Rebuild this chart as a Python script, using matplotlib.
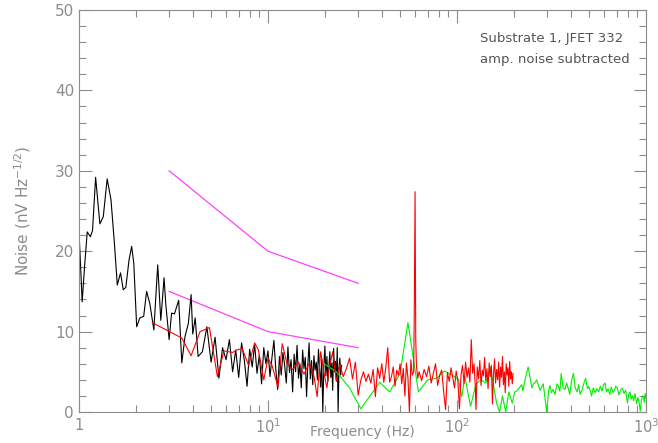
import matplotlib
matplotlib.use("Agg")
import matplotlib.pyplot as plt
from matplotlib.ticker import FixedLocator, FuncFormatter, MultipleLocator

# black spectrum, low frequency part
black_lo_f = [1.0, 1.04, 1.07, 1.106, 1.15, 1.18, 1.225, 1.29, 1.345, 1.41, 1.477,
              1.54, 1.595, 1.66, 1.715, 1.77, 1.84, 1.9, 1.95, 2.02, 2.1, 2.2, 2.28,
              2.37, 2.49, 2.61, 2.71, 2.82, 2.88, 3.0, 3.09, 3.2, 3.37, 3.5, 3.64,
              3.79, 3.92, 4.0, 4.12, 4.27]
black_lo_v = [22.6, 13.7, 18.0, 22.4, 21.8, 22.6, 29.2, 23.4, 24.3, 29.0, 26.4,
              21.0, 15.8, 17.3, 15.2, 15.5, 18.9, 20.6, 18.5, 10.6, 11.7, 11.9, 15.0,
              13.5, 10.2, 18.3, 11.4, 16.7, 13.4, 9.0, 12.3, 12.2, 13.9, 6.1, 9.4,
              11.0, 14.6, 9.7, 11.7, 6.9]

# black spectrum, dense part
black_hi_f = [4.5, 4.75, 5.0, 5.25, 5.5, 5.75, 6.0, 6.25, 6.5, 6.75, 7.0, 7.25, 7.5,
              7.75, 8.0, 8.25, 8.5, 8.75, 9.0, 9.25, 9.5, 9.75, 10.0, 10.25, 10.5,
              10.75, 11.0, 11.25, 11.5, 11.75, 12.0, 12.25, 12.5, 12.75, 13.0, 13.25,
              13.5, 13.75, 14.0, 14.25, 14.5, 14.75, 15.0, 15.25, 15.5, 15.75, 16.0,
              16.25, 16.5, 16.75, 17.0, 17.25, 17.5, 17.75, 18.0, 18.25, 18.5, 18.75,
              19.0, 19.25, 19.5, 19.75, 20.0, 20.25, 20.5, 20.75, 21.0, 21.25, 21.5,
              21.75, 22.0, 22.25, 22.5, 22.75, 23.0, 23.25, 23.5, 23.75, 24.0, 24.25,
              24.5]
black_hi_v = [7.5, 10.6, 6.2, 9.3, 4.2, 8.0, 6.5, 9.0, 5.0, 7.7, 4.3, 8.6, 6.4,
              3.2, 7.8, 5.6, 8.4, 4.8, 7.1, 3.5, 8.0, 6.0, 7.6, 4.4, 6.8,
              8.9, 5.3, 2.8, 6.9, 4.6, 7.4, 5.8, 3.6, 8.1, 4.9, 6.5,
              2.5, 7.2, 5.0, 8.3, 4.2, 6.0, 3.0, 7.7, 5.4, 6.8, 1.9,
              5.9, 8.6, 4.1, 6.4, 3.4, 7.0, 5.2, 6.2, 4.0, 7.8, 5.5,
              3.1, 6.6, 0.0, 5.8, 8.2, 4.5, 6.9, 3.8, 5.6, 7.5, 4.3,
              6.1, 2.7, 7.9, 5.0, 6.3, 3.9, 8.0, 0.0, 5.5, 6.7, 4.6,
              5.8]

# red spectrum
red_f = [2.45, 3.5, 3.92, 4.37, 4.9, 5.4, 5.85, 6.5, 6.8, 7.3, 7.9, 8.5, 8.9, 9.5,
         10.0, 10.5, 11.3, 11.9, 12.6, 13.5, 14.5, 15.5, 16.5, 17.5, 18.2, 19.0,
         19.8, 20.5,
         21, 22, 23, 24, 25, 26, 27, 28, 29, 30, 31, 32, 33, 34, 35, 36, 37, 38, 39, 40,
         41, 42, 43, 44, 45, 46, 47, 48, 49, 50, 51, 52, 53, 54, 55, 56, 57, 58, 59,
         59.5, 60, 60.5, 61, 62,
         63, 65, 67, 69, 71, 73, 75, 77, 79, 81, 83, 85, 87, 89, 91, 93, 95, 97, 99,
         101, 103, 105, 107, 109, 111, 113, 115, 117, 119, 121, 123, 125, 126, 128,
         130, 132, 134, 136, 138, 140, 142, 144, 146, 148, 150, 152, 154, 156, 158,
         160, 162, 164, 166, 168, 170, 172, 174, 176, 178, 180, 182, 184, 186, 188,
         190, 192, 194, 196, 198]
red_v = [11.1, 9.2, 7.0, 10.0, 10.5, 4.4, 7.6, 7.4, 7.7, 7.9, 5.8, 8.6, 7.7, 4.0,
         6.7, 5.8, 3.1, 8.5, 6.0, 5.3, 6.2, 4.7, 6.0, 4.5, 1.9, 7.5,
         4.8, 3.0,
         5.2, 7.5, 3.8, 5.9, 4.4, 5.4, 6.7, 4.1, 6.2, 2.1, 4.0, 5.0, 3.8, 4.7, 3.6, 5.3, 1.9, 5.5, 4.2, 6.0,
         3.7, 5.5, 8.0, 3.7, 4.4, 5.6, 3.2, 5.2, 4.6, 6.0, 3.5, 5.4, 2.0, 6.1, 4.3, 0.0, 6.5, 4.6, 5.0,
         14.0, 27.4, 9.0, 5.8, 4.2,
         5.0, 3.9, 5.3, 4.4, 5.7, 3.6, 4.8, 6.0, 3.3, 4.6, 5.2, 2.5, 0.3, 4.9, 3.8, 5.5, 4.2, 3.0, 5.1,
         4.0, 0.4, 4.6, 5.8, 3.5, 6.2, 4.3, 5.5, 3.7, 9.0, 4.8, 6.0, 3.2, 0.3, 5.6,
         4.1, 6.4, 3.3, 5.2, 4.5, 6.8, 3.9, 5.4, 2.9, 6.1, 4.4, 5.8, 1.0, 4.7, 6.6,
         3.6, 5.3, 4.0, 6.2, 3.1, 5.6, 4.3, 6.9, 3.4, 5.0, 2.4, 6.0, 4.6, 5.5, 3.2,
         6.3, 4.1, 5.0, 3.5, 4.8]

# green spectrum
green_f = [19.5, 23, 27, 31, 39, 44, 50, 55, 62.5, 70, 78, 86, 94, 102, 106, 110,
           118, 126, 134, 142, 150, 162, 168, 174, 181, 188, 196, 202, 207, 215, 220,
           223, 230, 238, 249, 254, 258, 264, 275, 286, 298,
           305, 310, 316, 322, 330, 338, 343, 350, 356, 364, 373, 380, 386, 395, 404,
           413, 422, 432, 440, 448, 458, 468, 479, 490, 498, 506, 515, 526, 538, 550,
           562, 573, 585, 596, 607, 618, 630, 643, 655, 668, 680, 692, 705, 718, 730,
           742, 752, 765, 780, 797, 810, 822, 835, 848, 860, 875, 893, 905, 918, 932,
           945, 957, 967, 980, 990, 1000]
green_v = [6.1, 5.0, 3.0, 0.4, 3.7, 2.5, 4.8, 11.1, 2.5, 4.0, 4.2, 5.1, 4.6, 4.0, 1.9, 4.4,
           0.7, 3.5, 4.0, 3.6, 5.6, 1.1, 0.0, 2.0, 0.0, 2.5, 1.1, 2.5, 2.6, 3.1, 3.4,
           2.6, 4.2, 5.6, 3.0, 3.5, 3.6, 4.0, 2.7, 3.5, 0.0,
           2.6, 3.3, 2.4, 2.8, 2.2, 3.5, 3.3, 2.6, 4.8, 3.0, 2.8, 3.6, 3.1, 2.2, 3.9,
           4.8, 3.0, 2.5, 3.4, 2.2, 2.7, 3.5, 4.2, 2.9, 3.2, 2.7, 2.0, 3.0, 2.4, 2.9,
           2.5, 3.2, 2.6, 3.4, 3.6, 2.5, 2.9, 2.2, 3.1, 2.4, 2.7, 3.2, 3.0, 2.1, 2.6,
           2.9, 2.9, 2.3, 2.7, 1.1, 2.2, 2.5, 1.6, 2.0, 1.4, 2.3, 1.0, 1.8, 1.3, 0.1,
           1.4, 2.0, 2.0, 1.2, 2.3, 1.7]

# magenta reference lines
mag_f = [3, 10, 30]
mag_hi = [30, 20, 16]
mag_lo = [15, 10, 8]

grey = '#8c8c8c'
plt.rcParams['font.family'] = 'DejaVu Sans'

fig = plt.figure(figsize=(6.58, 4.43), dpi=100)
ax = fig.add_axes([0.12, 0.07, 0.8618, 0.9074])

ax.plot(mag_f, mag_hi, color='#ff40ff', lw=0.9)
ax.plot(mag_f, mag_lo, color='#ff40ff', lw=0.9)
ax.plot(black_lo_f + black_hi_f, black_lo_v + black_hi_v, color='black', lw=0.8)
ax.plot(green_f, green_v, color='#00ee00', lw=0.8)
ax.plot(red_f, red_v, color='red', lw=0.8)

ax.set_xscale('log')
ax.set_xlim(1, 1000)
ax.set_ylim(0, 50)

ax.yaxis.set_major_locator(MultipleLocator(10))
ax.yaxis.set_minor_locator(MultipleLocator(2))
ax.xaxis.set_major_locator(FixedLocator([1, 10, 100, 1000]))
labels = {1: '1', 10: '$10^1$', 100: '$10^2$', 1000: '$10^3$'}
ax.xaxis.set_major_formatter(FuncFormatter(lambda v, p: labels.get(int(round(v)), '')))

ax.tick_params(which='both', direction='in', top=True, right=True, colors=grey,
               labelcolor=grey, labelsize=11)
ax.tick_params(which='major', length=9, width=0.8)
ax.tick_params(which='minor', length=5, width=0.8)
ax.tick_params(axis='x', pad=4, labelsize=10.5)
for s in ax.spines.values():
    s.set_color(grey)
    s.set_linewidth(0.8)

ax.set_xlabel('Frequency (Hz)', color=grey, fontsize=10)
ax.xaxis.set_label_coords(0.5, -0.032)
ax.set_ylabel('Noise (nV Hz$^{-1/2}$)', color=grey, fontsize=11, labelpad=16)

ax.text(132, 46.5, 'Substrate 1, JFET 332', color='#555555', fontsize=9.5, va='center')
ax.text(132, 43.8, 'amp. noise subtracted', color='#555555', fontsize=9.5, va='center')

fig.savefig('out.png', dpi=100)
